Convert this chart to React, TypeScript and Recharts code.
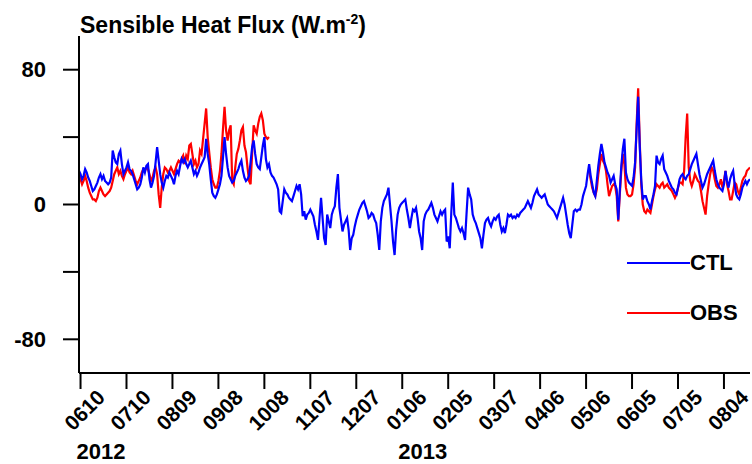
import React from 'react';
import { LineChart, Line, XAxis, YAxis, Legend } from 'recharts';

// Daily sensible heat flux (W m-2), day 0 = 2012-06-09
const tickLabels = ['0610', '0710', '0809', '0908', '1008', '1107', '1207', '0106', '0205', '0307', '0406', '0506', '0605', '0705', '0804'];
const tickDays = [1, 31, 61, 91, 121, 151, 181, 211, 241, 271, 301, 331, 361, 391, 421];
const yearLabels: Record<string, string> = { '0610': '2012', '0106': '2013' };
const yTicks = [-80, -40, 0, 40, 80];
const yLabelled = [-80, 0, 80];

const ctlValues = [
  20, 18, 15, 17, 21, 19, 16, 14, 11, 8,
  9, 11, 13, 16, 18, 15, 17, 14, 13, 12,
  13, 16, 32, 28, 25, 24, 30, 32, 24, 18,
  20, 22, 25, 21, 20, 18, 15, 12, 9, 10,
  12, 16, 22, 19, 23, 24, 15, 10, 13, 17,
  25, 34, 26, 18, 13, 10, 14, 17, 16, 19,
  17, 15, 12, 17, 20, 18, 23, 27, 25, 27,
  24, 22, 24, 26, 22, 18, 20, 17, 19, 22,
  24, 26, 28, 39, 30, 24, 15, 7, 5, 4,
  6, 9, 12, 17, 28, 40, 30, 22, 17, 15,
  13, 14, 17, 19, 21, 24, 26, 20, 16, 14,
  15, 17, 25, 34, 38, 30, 24, 22, 21, 28,
  35, 40, 27, 22, 24, 19, 17, 16, 14, 12,
  9, -4, -5, 2, 9, 7, 6, 4, 3, 2,
  5, 8, 11, 9, 12, 6, -7, -4, -9, -6,
  -5, -3, -5, -7, -12, -16, -21, -8, 4, -8,
  -20, -24, -6, -10, -14, -6, -3, -1, 10, 18,
  -2, -9, -16, -12, -10, -8, -15, -27, -20, -18,
  -13, -9, -6, -3, -1, 1, 2, -1, -4, -8,
  -7, -5, -6, -9, -11, -18, -27, -10, -2, 2,
  4, 6, 10, 0, -10, -22, -30, -15, -6, -2,
  0, 1, 2, 3, -3, -8, -14, -8, -3, -4,
  -2, -8, -16, -20, -27, -10, -6, -4, -3, -1,
  1, -2, -6, -8, -10, -7, -4, -6, -4, -3,
  -22, -19, -26, -5, 13, -6, -8, -11, -14, -16,
  -14, -17, -21, -5, 10, 6, 3, -6, -9, -11,
  -14, -17, -20, -26, -18, -11, -9, -8, -11, -13,
  -10, -8, -9, -7, -6, -12, -16, -14, -17, -12,
  -6, -7, -6, -8, -7, -8, -6, -7, -5, -4,
  -3, -2, 0, 2, 0, -2, 1, 5, 7, 9,
  6, 5, 4, 5, 6, 3, 0, -1, -2, -3,
  -4, -6, -8, -5, -2, 1, 4, 0, -6, -12,
  -17, -20, -12, -4, -3, -4, -3, -3, 0, 5,
  8, 11, 18, 24, 17, 12, 7, 5, 14, 23,
  30, 36, 31, 25, 22, 19, 17, 13, 15, 17,
  12, 9, -9, 8, 23, 33, 39, 19, 15, 13,
  12, 11, 16, 25, 45, 64, 35, 15, 3, 5,
  5, 2, 0, -3, 2, 6, 11, 29, 25, 24,
  27, 29, 21, 19, 17, 14, 12, 10, 9, 7,
  6, 10, 15, 17, 18, 16, 15, 17, 18, 21,
  24, 26, 28, 30, 24, 18, 14, 10, 12, 15,
  18, 20, 22, 24, 26, 20, 15, 12, 10, 9,
  8, 12, 20, 14, 10, 15, 18, 20, 12, 6,
  4, 3, 6, 10, 12, 14, 12, 14, 15,
];

// Observations: summer 2012 (from day 0) and summer 2013 (from day 333)
const obs2012Start = 0;
const obs2012 = [
  18, 15, 12, 14, 17, 14, 10, 7, 5, 3,
  3, 2, 4, 8, 10, 8, 6, 5, 6, 7,
  8, 10, 14, 18, 20, 22, 18, 20, 17, 15,
  18, 20, 22, 19, 18, 20, 17, 14, 12, 14,
  16, 19, 21, 20, 22, 21, 18, 14, 16, 20,
  22, 18, 6, -2, 10, 18, 22, 21, 19, 20,
  22, 20, 18, 21, 24, 26, 25, 27, 29, 24,
  29, 27, 35, 36, 30, 24, 26, 22, 24, 32,
  30, 39, 48, 57, 40, 31, 22, 15, 12, 10,
  10, 14, 20, 30, 45, 58, 44, 38, 44, 47,
  14, 12, 22, 30, 33, 38, 44, 46, 35, 31,
  22, 14, 12, 30, 47, 44, 42, 48, 52, 54,
  50, 42, 40, 39, 40,
];
const obs2013Start = 333;
const obs2013 = [
  20, 15, 10, 7, 5, 9, 18,
  24, 30, 26, 24, 20, 12, 5, 8, 11, 12,
  11, 5, -10, 6, 20, 30, 24, 10, 6, 5,
  5, 6, 12, 22, 48, 69, 38, 12, 0, -4,
  -5, -3, -4, -5, 0, 5, 9, 12, 11, 10,
  12, 13, 10, 11, 12, 10, 9, 8, 6, 4,
  6, 10, 13, 13, 12, 20, 40, 54, 22, 14,
  11, 14, 18, 16, 14, 13, 8, 2, -2, -6,
  5, 12, 18, 22, 20, 15, 11, 10, 12, 15,
  10, 14, 20, 12, 8, 3, 3, 8, 13, 12,
  8, 6, 10, 14, 16, 17, 20, 21, 22,
];

const series = [
  { key: 'ctl', name: 'CTL', color: '#0000ff' },
  { key: 'obs', name: 'OBS', color: '#ff0000' },
];

const obsAt = (i: number): number | null => {
  const a = i - obs2012Start;
  if (a >= 0 && a < obs2012.length) return obs2012[a];
  const b = i - obs2013Start;
  if (b >= 0 && b < obs2013.length) return obs2013[b];
  return null;
};

const rows = ctlValues.map((v, i) => ({ day: i, ctl: v, obs: obsAt(i) }));

const FONT = '"Liberation Sans", Arial, Helvetica, sans-serif';

const DateTick = (props: any) => {
  const { x, y, payload } = props;
  const idx = tickDays.indexOf(payload.value);
  const label = tickLabels[idx] ?? '';
  const cx = x + 4;
  const cy = y + 21;
  const year = yearLabels[label];
  return (
    <g>
      <text
        x={cx}
        y={cy}
        transform={`rotate(-45 ${cx} ${cy})`}
        textAnchor="middle"
        dominantBaseline="central"
        fontFamily={FONT}
        fontWeight="bold"
        fontSize={21}
        fill="#000"
      >
        {label}
      </text>
      {year && (
        <text x={x - 4} y={y + 70} textAnchor="start" fontFamily={FONT} fontWeight="bold" fontSize={22} fill="#000">
          {year}
        </text>
      )}
    </g>
  );
};

const ValueTick = (props: any) => {
  const { x, y, payload } = props;
  if (!yLabelled.includes(payload.value)) return <g />;
  return (
    <text x={x} y={y} textAnchor="end" dominantBaseline="central" fontFamily={FONT} fontWeight="bold" fontSize={22} fill="#000">
      {payload.value}
    </text>
  );
};

const LegendBox = () => (
  <div style={{ fontFamily: FONT, fontWeight: 'bold', fontSize: 22, color: '#000' }}>
    {series.map((s) => (
      <div key={s.key} style={{ display: 'flex', alignItems: 'center', height: 50 }}>
        <svg width={63} height={4} style={{ display: 'block' }}>
          <line x1={0} y1={2} x2={63} y2={2} stroke={s.color} strokeWidth={2} />
        </svg>
        <span style={{ lineHeight: '22px' }}>{s.name}</span>
      </div>
    ))}
  </div>
);

export default function App() {
  return (
    <div style={{ position: 'absolute', left: 0, top: 0, width: 752, height: 464, background: '#fff' }}>
      <div
        style={{
          position: 'absolute',
          left: 80,
          top: 6,
          fontFamily: FONT,
          fontWeight: 'bold',
          fontSize: 23,
          lineHeight: '27px',
          color: '#000',
          whiteSpace: 'nowrap',
        }}
      >
        Sensible Heat Flux (W.m<span style={{ fontSize: 14, verticalAlign: 9 }}>-2</span>)
      </div>
      <LineChart width={752} height={464} data={rows} margin={{ top: 36, right: 2, bottom: 0, left: 0 }}>
        <XAxis
          dataKey="day"
          type="number"
          domain={[0, 438]}
          ticks={tickDays}
          interval={0}
          height={91}
          tickSize={16}
          tickMargin={0}
          tick={<DateTick />}
          axisLine={{ stroke: '#000', strokeWidth: 2 }}
          tickLine={{ stroke: '#000', strokeWidth: 2 }}
          allowDataOverflow
        />
        <XAxis
          xAxisId="top"
          orientation="top"
          dataKey="day"
          type="number"
          domain={[0, 438]}
          height={0}
          tick={false}
          tickLine={false}
          axisLine={{ stroke: '#000', strokeWidth: 2 }}
        />
        <YAxis
          domain={[-100, 100]}
          ticks={yTicks}
          interval={0}
          width={79}
          tickSize={16}
          tickMargin={17}
          tick={<ValueTick />}
          axisLine={{ stroke: '#000', strokeWidth: 2 }}
          tickLine={{ stroke: '#000', strokeWidth: 2 }}
          allowDataOverflow
        />
        <YAxis
          yAxisId="right"
          orientation="right"
          domain={[-100, 100]}
          width={0}
          tick={false}
          tickLine={false}
          axisLine={{ stroke: '#000', strokeWidth: 2 }}
        />
        <Legend
          layout="vertical"
          align="center"
          verticalAlign="middle"
          wrapperStyle={{ position: 'absolute', left: 627, top: 238, width: 130 }}
          content={<LegendBox />}
        />
        <Line
          dataKey="obs"
          name="OBS"
          stroke="#ff0000"
          strokeWidth={2.2}
          dot={false}
          connectNulls={false}
          isAnimationActive={false}
        />
        <Line
          dataKey="ctl"
          name="CTL"
          stroke="#0000ff"
          strokeWidth={2.2}
          dot={false}
          isAnimationActive={false}
        />
      </LineChart>
    </div>
  );
}
